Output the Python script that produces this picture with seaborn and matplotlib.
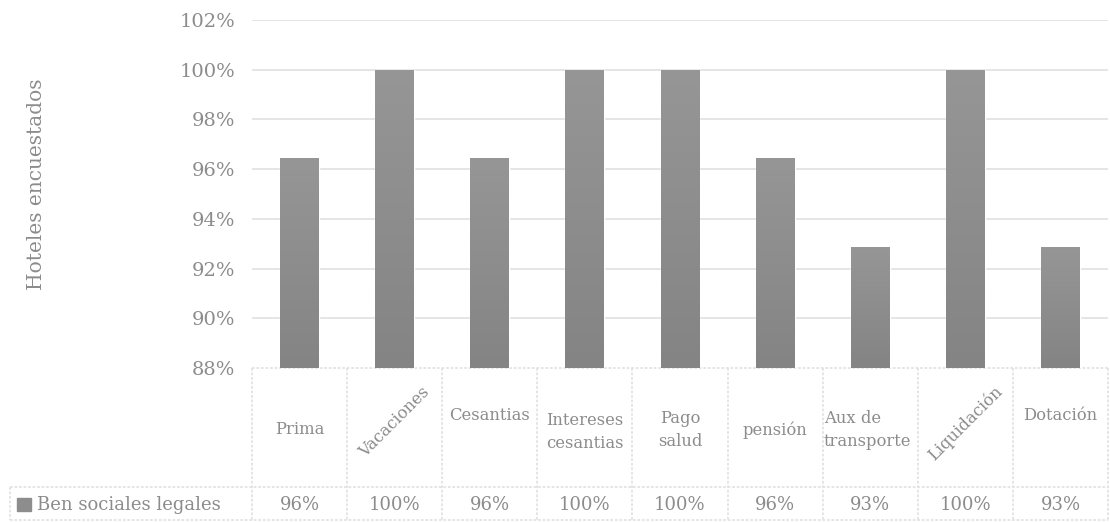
import numpy as np
import pandas as pd
import matplotlib
matplotlib.use("Agg")
import matplotlib.pyplot as plt
import matplotlib.transforms as mtransforms
import seaborn as sns

# ---- data ----
categories = ["Prima", "Vacaciones", "Cesantias", "Intereses\ncesantias", "Pago\nsalud",
              "pensión", "Aux de\ntransporte", "Liquidación", "Dotación"]
values = [96.43, 100.0, 96.43, 100.0, 100.0, 96.43, 92.86, 100.0, 92.86]
value_labels = ["96%", "100%", "96%", "100%", "100%", "96%", "93%", "100%", "93%"]
series_name = "Ben sociales legales"
y_ticks = [88, 90, 92, 94, 96, 98, 100, 102]
y_label = "Hoteles encuestados"

# ---- style ----
sns.set_theme(style="white")
plt.rcParams["font.family"] = ["DejaVu Serif"]
TXT = "#8c8c8c"
GRID = "#e3e3e3"

W, H = 1110, 522
fig = plt.figure(figsize=(W / 100, H / 100), dpi=100)
L, R, T, B = 252, 1108, 20, 368
ax = fig.add_axes([L / W, 1 - B / H, (R - L) / W, (B - T) / H])

df = pd.DataFrame({"cat": categories, "val": values})
sns.barplot(data=df, x="cat", y="val", color="#8d8d8d", width=0.41, ax=ax,
            saturation=1, zorder=3)
ax.set_ylim(88, 102)
ax.set_xlim(-0.5, len(categories) - 0.5)
ax.set_yticks(y_ticks)
ax.set_yticklabels([f"{t}%" for t in y_ticks], color=TXT, fontsize=14)
ax.tick_params(axis="y", length=0, pad=12)
ax.set_xticks([])
ax.set_xlabel("")
ax.set_ylabel("")
for s in ax.spines.values():
    s.set_visible(False)
for t in y_ticks[1:]:
    ax.axhline(t, color=GRID, lw=1.3, zorder=1)

# subtle gradient fill on bars
grad = np.linspace(0, 1, 256).reshape(-1, 1)
cmap = matplotlib.colors.LinearSegmentedColormap.from_list("g", ["#969696", "#848484"])
for p in ax.patches:
    x0, y0 = p.get_x(), p.get_y()
    w, h = p.get_width(), p.get_height()
    im = ax.imshow(grad, extent=[x0, x0 + w, 88, y0 + h], aspect="auto",
                   cmap=cmap, zorder=4, origin="upper")
    im.set_clip_path(p)
ax.set_xlim(-0.5, len(categories) - 0.5)
ax.set_ylim(88, 102)

# y label
fig.text(37 / W, 1 - 184 / H, y_label, rotation=90, ha="center", va="center",
         color=TXT, fontsize=14.5)

# ---- data table ----
def ay(ypx):
    return (B - ypx) / (B - T)

def axx(xpx):
    return (xpx - L) / (R - L)

trans = mtransforms.blended_transform_factory(ax.transData, ax.transAxes)
lkw = dict(color=GRID, lw=1.3, clip_on=False, ls=(0, (1.5, 1)))
y_row1, y_row2, y_row3 = ay(368), ay(487), ay(520)
for i in range(len(categories) + 1):
    ax.plot([i - 0.5, i - 0.5], [y_row1, y_row3], transform=trans, **lkw)
ax.plot([0, 1], [y_row1, y_row1], transform=ax.transAxes, **lkw)
ax.plot([axx(10), 1], [y_row2, y_row2], transform=ax.transAxes, **lkw)
ax.plot([axx(10), 1], [y_row3, y_row3], transform=ax.transAxes, **lkw)
ax.plot([axx(10), axx(10)], [y_row2, y_row3], transform=ax.transAxes, **lkw)

# category labels (Excel-like placement)
label_y = [430, 422, 415, 432, 430, 430, 430, 423, 415]
label_rot = [0, 45, 0, 0, 0, 0, 0, 45, 0]
for i, (c, yy, rot) in enumerate(zip(categories, label_y, label_rot)):
    if c.startswith("Aux"):
        ax.text(i - 0.49, ay(yy), c, transform=trans, ha="left", va="center",
                color=TXT, fontsize=11.8, linespacing=1.45)
    else:
        ax.text(i, ay(yy), c, transform=trans, ha="center", va="center",
                rotation=rot, color=TXT, fontsize=11.8, linespacing=1.45,
                rotation_mode="anchor")

for i, v in enumerate(value_labels):
    ax.text(i, ay(505), v, transform=trans, ha="center", va="center",
            color=TXT, fontsize=13)

# legend cell
ax.add_patch(plt.Rectangle((axx(17), ay(511)), axx(31) - axx(17), ay(498) - ay(511),
                           transform=ax.transAxes, color="#8d8d8d", clip_on=False))
ax.text(axx(37), ay(505), series_name, transform=ax.transAxes, ha="left",
        va="center", color=TXT, fontsize=13)

fig.savefig("out.png", dpi=100)
